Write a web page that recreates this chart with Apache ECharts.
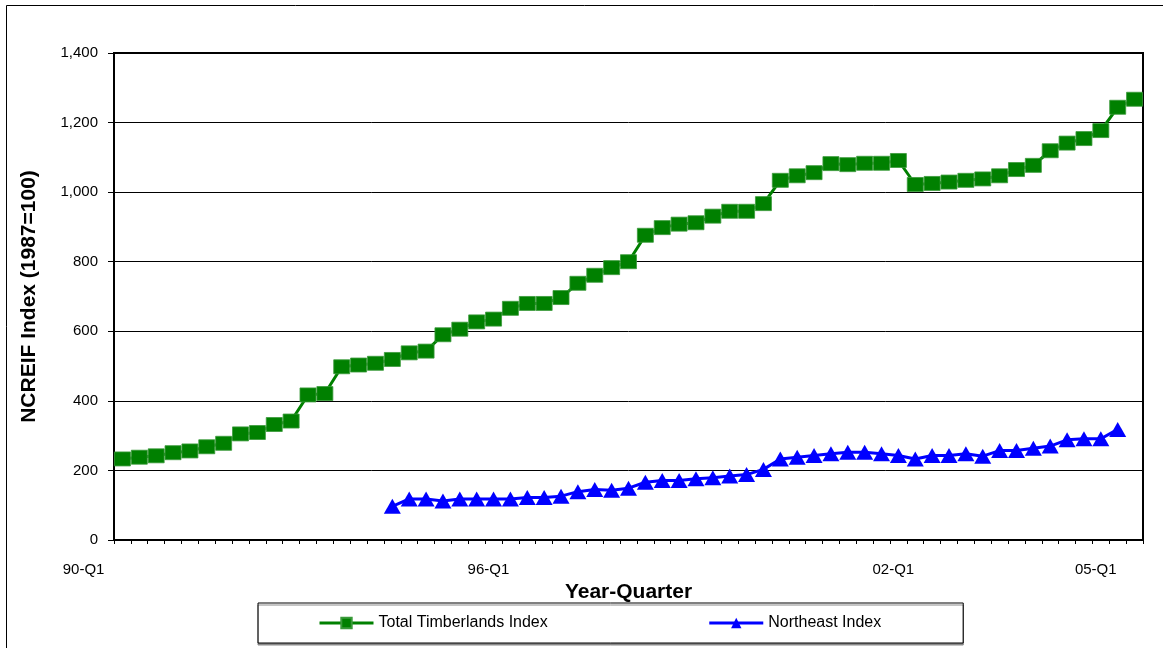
<!DOCTYPE html>
<html>
<head>
<meta charset="utf-8">
<title>NCREIF Timberland Index</title>
<script src="https://cdn.jsdelivr.net/npm/echarts@6/dist/echarts.min.js"></script>
<style>
  html, body { margin: 0; padding: 0; background: #fff; }
  #chart { width: 1163px; height: 648px; }
</style>
</head>
<body>
<div id="chart"></div>
<script>
// Quarterly index levels, 1990-Q1 through 2005-Q1
const quarters = [
  '90-Q1','90-Q2','90-Q3','90-Q4','91-Q1','91-Q2','91-Q3','91-Q4',
  '92-Q1','92-Q2','92-Q3','92-Q4','93-Q1','93-Q2','93-Q3','93-Q4',
  '94-Q1','94-Q2','94-Q3','94-Q4','95-Q1','95-Q2','95-Q3','95-Q4',
  '96-Q1','96-Q2','96-Q3','96-Q4','97-Q1','97-Q2','97-Q3','97-Q4',
  '98-Q1','98-Q2','98-Q3','98-Q4','99-Q1','99-Q2','99-Q3','99-Q4',
  '00-Q1','00-Q2','00-Q3','00-Q4','01-Q1','01-Q2','01-Q3','01-Q4',
  '02-Q1','02-Q2','02-Q3','02-Q4','03-Q1','03-Q2','03-Q3','03-Q4',
  '04-Q1','04-Q2','04-Q3','04-Q4','05-Q1'
];

// Quarters that carry a printed axis label
const tickLabels = ['90-Q1', '96-Q1', '02-Q1', '05-Q1'];

const totalTimberlands = [
  233, 238, 242, 251, 256, 268, 278, 305, 309, 332,
  342, 417, 421, 498, 503, 508, 519, 538, 543, 590,
  606, 627, 635, 666, 680, 680, 697, 738, 761, 783,
  800, 876, 898, 908, 912, 931, 945, 945, 967, 1034,
  1047, 1056, 1082, 1079, 1083, 1083, 1091, 1022, 1025, 1029,
  1034, 1038, 1047, 1065, 1077, 1119, 1141, 1154, 1177, 1244,
  1267
];

// Northeast series begins in 94-Q1 and has no 05-Q1 value
const northeast = [
  null, null, null, null, null, null, null, null, null, null,
  null, null, null, null, null, null, 97, 118, 118, 112,
  118, 118, 118, 118, 122, 122, 126, 139, 145, 143,
  149, 166, 171, 171, 176, 179, 184, 188, 203, 233,
  238, 243, 248, 252, 252, 248, 243, 233, 243, 243,
  248, 241, 257, 257, 264, 270, 288, 291, 291, 318,
  null
];

const FONT = '"Liberation Sans", Arial, Helvetica, sans-serif';

const chart = echarts.init(document.getElementById('chart'), null, { renderer: 'canvas' });

chart.setOption({
  animation: false,
  backgroundColor: '#ffffff',
  textStyle: { fontFamily: FONT, color: '#000' },
  grid: {
    left: 114,
    right: 20,
    top: 53,
    bottom: 108,
    show: true,
    borderColor: '#000',
    borderWidth: 2,
    backgroundColor: '#fff',
    containLabel: false,
    outerBoundsMode: 'none'
  },
  graphic: [
    {
      type: 'polyline',
      silent: true,
      shape: { points: [[6.5, 648], [6.5, 5.5], [1163, 5.5]] },
      style: { stroke: '#000', lineWidth: 1, fill: null }
    }
  ],
  legend: {
    left: 258,
    top: 603,
    orient: 'horizontal',
    padding: [12, 82, 12, 60],
    itemGap: 160,
    itemWidth: 54,
    itemHeight: 13,
    borderColor: '#000',
    borderWidth: 1,
    borderRadius: 0,
    backgroundColor: '#fff',
    shadowColor: '#8a8a8a',
    shadowOffsetX: 0,
    shadowOffsetY: 2,
    shadowBlur: 0,
    lineStyle: { width: 3 },
    textStyle: { fontFamily: FONT, fontSize: 16, color: '#000' },
    data: ['Total Timberlands Index', 'Northeast Index']
  },
  xAxis: {
    type: 'category',
    data: quarters,
    boundaryGap: true,
    name: 'Year-Quarter',
    nameLocation: 'middle',
    nameGap: 35,
    nameTextStyle: { fontFamily: FONT, fontSize: 21, fontWeight: 'bold', color: '#000' },
    axisLine: { show: true, lineStyle: { color: '#000', width: 2 } },
    axisTick: { show: true, interval: 0, length: 4, lineStyle: { color: '#000', width: 1 } },
    axisLabel: {
      interval: (idx, val) => tickLabels.indexOf(val) !== -1,
      margin: 22,
      align: 'right',
      padding: [0, 18, 0, 0],
      fontFamily: FONT,
      fontSize: 15,
      color: '#000'
    },
    splitLine: { show: false }
  },
  yAxis: {
    type: 'value',
    min: 0,
    max: 1400,
    interval: 200,
    name: 'NCREIF Index (1987=100)',
    nameLocation: 'middle',
    nameRotate: 90,
    nameGap: 74,
    nameTextStyle: { fontFamily: FONT, fontSize: 21, fontWeight: 'bold', color: '#000' },
    axisLine: { show: true, lineStyle: { color: '#000', width: 2 } },
    axisTick: { show: true, length: 6, lineStyle: { color: '#000', width: 1 } },
    axisLabel: {
      margin: 16,
      fontFamily: FONT,
      fontSize: 15,
      color: '#000',
      formatter: v => v.toLocaleString('en-US')
    },
    splitLine: { show: true, lineStyle: { color: '#000', width: 1 } }
  },
  series: [
    {
      name: 'Total Timberlands Index',
      type: 'line',
      data: totalTimberlands,
      symbol: 'rect',
      symbolSize: [16, 14],
      showAllSymbol: true,
      clip: false,
      lineStyle: { color: '#008000', width: 3 },
      itemStyle: { color: '#008000', borderColor: '#3a9a3a', borderWidth: 0.8 },
      z: 3
    },
    {
      name: 'Northeast Index',
      type: 'line',
      data: northeast,
      connectNulls: false,
      symbol: 'triangle',
      symbolSize: [17, 15],
      showAllSymbol: true,
      clip: false,
      lineStyle: { color: '#0000ff', width: 3 },
      itemStyle: { color: '#0000ff' },
      z: 4
    }
  ]
});
</script>
</body>
</html>
